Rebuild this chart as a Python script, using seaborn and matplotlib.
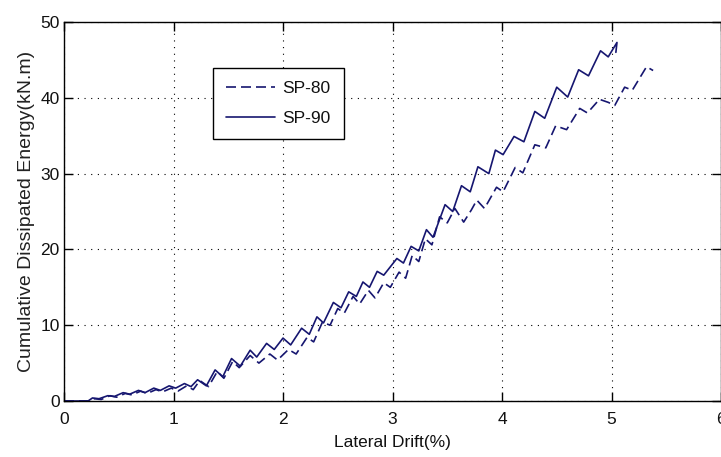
import matplotlib
matplotlib.use("Agg")
import matplotlib.pyplot as plt
import seaborn as sns
import pandas as pd

# ---- data ----
drift_sp80 = [0.00, 0.22, 0.28, 0.34, 0.42, 0.48, 0.56, 0.62, 0.70, 0.76, 0.84, 0.90,
              0.98, 1.04, 1.12, 1.18, 1.24, 1.32, 1.40, 1.46, 1.54, 1.60, 1.70, 1.78,
              1.88, 1.95, 2.05, 2.12, 2.22, 2.28, 2.36, 2.43, 2.50, 2.56, 2.64, 2.70,
              2.78, 2.84, 2.92, 2.98, 3.06, 3.12, 3.18, 3.24, 3.30, 3.36, 3.43, 3.50,
              3.57, 3.65, 3.72, 3.77, 3.84, 3.95, 4.01, 4.12, 4.19, 4.30, 4.40, 4.49,
              4.59, 4.71, 4.78, 4.89, 4.97, 5.03, 5.12, 5.19, 5.32, 5.38]
energy_sp80 = [0.0, 0.0, 0.3, 0.2, 0.7, 0.5, 1.0, 0.8, 1.3, 1.0, 1.5, 1.2,
               1.7, 1.3, 2.0, 1.5, 2.7, 1.9, 3.9, 3.0, 5.2, 4.4, 6.0, 5.0,
               6.2, 5.4, 6.8, 6.2, 8.4, 7.8, 10.4, 10.0, 12.2, 11.6, 13.8, 12.8,
               14.6, 13.6, 15.6, 15.0, 17.0, 16.2, 19.2, 18.4, 21.4, 20.6, 24.3, 23.5,
               25.4, 23.6, 25.2, 26.5, 25.4, 28.2, 27.6, 30.8, 30.1, 33.8, 33.4, 36.3,
               35.8, 38.6, 38.0, 39.8, 39.4, 39.0, 41.4, 41.0, 44.1, 43.6]

drift_sp90 = [0.00, 0.22, 0.26, 0.32, 0.40, 0.46, 0.54, 0.60, 0.68, 0.74, 0.82, 0.88,
              0.96, 1.02, 1.10, 1.16, 1.22, 1.30, 1.38, 1.45, 1.53, 1.61, 1.70, 1.76,
              1.85, 1.92, 2.00, 2.07, 2.17, 2.24, 2.31, 2.37, 2.46, 2.53, 2.60, 2.67,
              2.73, 2.79, 2.86, 2.92, 3.04, 3.10, 3.17, 3.24, 3.31, 3.37, 3.48, 3.55,
              3.63, 3.71, 3.78, 3.88, 3.94, 4.01, 4.11, 4.20, 4.30, 4.39, 4.50, 4.60,
              4.70, 4.79, 4.90, 4.97, 5.05, 5.04]
energy_sp90 = [0.0, 0.0, 0.4, 0.3, 0.7, 0.6, 1.1, 0.9, 1.4, 1.1, 1.7, 1.4,
               2.0, 1.7, 2.3, 1.9, 2.8, 2.0, 4.1, 3.2, 5.6, 4.6, 6.7, 5.8,
               7.6, 6.8, 8.3, 7.4, 9.6, 8.8, 11.1, 10.3, 13.0, 12.3, 14.4, 13.8,
               15.7, 15.0, 17.1, 16.6, 18.8, 18.2, 20.4, 19.8, 22.6, 21.6, 25.9, 25.0,
               28.4, 27.6, 30.9, 30.0, 33.1, 32.5, 34.9, 34.2, 38.2, 37.3, 41.4, 40.1,
               43.7, 42.9, 46.2, 45.4, 47.3, 46.0]

series_names = ["SP-80", "SP-90"]
x_ticks = [0, 1, 2, 3, 4, 5, 6]
y_ticks = [0, 10, 20, 30, 40, 50]

df80 = pd.DataFrame({"drift": drift_sp80, "energy": energy_sp80, "specimen": series_names[0]})
df90 = pd.DataFrame({"drift": drift_sp90, "energy": energy_sp90, "specimen": series_names[1]})

sns.set_theme(style="white")
plt.rcParams["font.family"] = ["Liberation Sans", "DejaVu Sans"]
plt.rcParams["xtick.direction"] = "in"
plt.rcParams["ytick.direction"] = "in"

fig = plt.figure(figsize=(7.21, 4.57), dpi=100)
ax = fig.add_axes([64 / 721, 1 - 401 / 457, 657 / 721, 379 / 457])

line_color = "#161670"
sns.lineplot(data=df80, x="drift", y="energy", ax=ax, sort=False, estimator=None,
             color=line_color, linewidth=1.2, label=series_names[0])
sns.lineplot(data=df90, x="drift", y="energy", ax=ax, sort=False, estimator=None,
             color=line_color, linewidth=1.2, label=series_names[1])
ax.lines[0].set_dashes([6, 3])

ax.set_xlim(0, 6)
ax.set_ylim(0, 50)
ax.set_xticks(x_ticks)
ax.set_yticks(y_ticks)
ax.tick_params(axis="both", which="both", length=6.5, width=1, colors="black",
               labelsize=12.5, top=True, right=True, bottom=True, left=True,
               labelcolor="#111111")
ax.tick_params(axis="x", pad=8)
ax.tick_params(axis="y", pad=3)

ax.grid(True, color="black", linewidth=0.8, linestyle=(0, (1, 5)))
for s in ax.spines.values():
    s.set_visible(True)
    s.set_color("black")
    s.set_linewidth(1.0)

ax.set_xlabel("Lateral Drift(%)", fontsize=12.5, color="#111111", labelpad=6)
ax.set_ylabel("Cumulative Dissipated Energy(kN.m)", fontsize=14, color="#222222",
              labelpad=4)

leg = ax.legend(loc="upper left", bbox_to_anchor=((213 - 64) / 657, (401 - 68) / 379),
                borderaxespad=0, frameon=True, fancybox=False, framealpha=1,
                edgecolor="black", fontsize=12.5, handlelength=2.8,
                handletextpad=0.45, borderpad=0.75, labelspacing=0.85)
leg.get_frame().set_linewidth(1.0)
for t in leg.get_texts():
    t.set_color("#111111")

fig.savefig("out.png", dpi=100, facecolor="white")
